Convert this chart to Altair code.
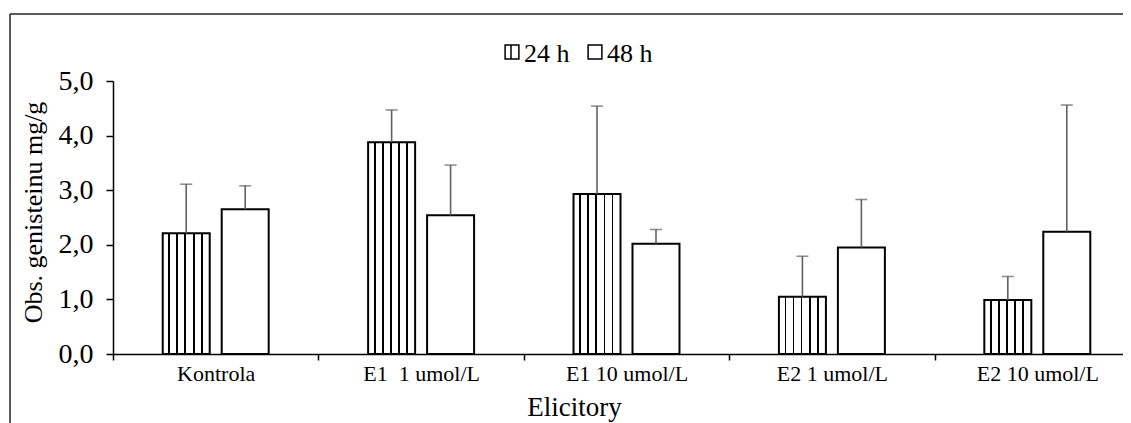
import altair as alt
import pandas as pd

categories = ["Kontrola", "E1\u00a0 1 umol/L", "E1 10 umol/L", "E2 1 umol/L", "E2 10 umol/L"]
series = ["24 h", "48 h"]
mean_24 = [2.21, 3.88, 2.93, 1.05, 0.99]
err_24 = [0.90, 0.59, 1.61, 0.74, 0.43]
mean_48 = [2.65, 2.54, 2.02, 1.95, 2.24]
err_48 = [0.43, 0.92, 0.26, 0.88, 2.32]
y_ticks = [0, 1, 2, 3, 4, 5]

rows = []
for c, m, e in zip(categories, mean_24, err_24):
    rows.append({"cat": c, "series": series[0], "value": m, "upper": m + e})
for c, m, e in zip(categories, mean_48, err_48):
    rows.append({"cat": c, "series": series[1], "value": m, "upper": m + e})
df = pd.DataFrame(rows)

FONT = "Liberation Serif"

# vertical hatch as a hard-stop horizontal gradient
stripe_centers = [0.14, 0.31, 0.48, 0.66, 0.83]
hw = 0.018
stops = [{"offset": 0, "color": "white"}]
for s in stripe_centers:
    stops += [
        {"offset": s - hw, "color": "white"},
        {"offset": s - hw, "color": "black"},
        {"offset": s + hw, "color": "black"},
        {"offset": s + hw, "color": "white"},
    ]
stops.append({"offset": 1, "color": "white"})
hatch = {"gradient": "linear", "x1": 0, "x2": 1, "y1": 0, "y2": 0, "stops": stops}

x_enc = alt.X(
    "cat:N",
    sort=categories,
    scale=alt.Scale(domain=categories, range=[0, 1027], paddingInner=0, paddingOuter=0),
    axis=alt.Axis(
        title="Elicitory",
        titleFont=FONT, titleFontSize=27, titleFontWeight="normal", titleColor="black",
        titleX=461, titleY=61, titleAlign="center", titleBaseline="alphabetic",
        labelFont=FONT, labelFontSize=22, labelColor="black", labelPadding=3, labelAngle=0,
        domainColor="black", domainWidth=1.5,
        tickColor="black", tickWidth=1.5, tickSize=6, tickBand="extent",
        grid=False,
    ),
)
xo_enc = alt.XOffset(
    "series:N",
    scale=alt.Scale(domain=series, paddingInner=0.203, paddingOuter=0.843),
)
y_scale = alt.Scale(domain=[0, 5], nice=False, zero=True)
y_enc = alt.Y(
    "value:Q",
    scale=y_scale,
    axis=alt.Axis(
        title="Obs. genisteinu mg/g",
        titleFont=FONT, titleFontSize=26, titleFontWeight="normal", titleColor="black",
        titleX=-67, titleY=131, titleAngle=270, titleAlign="center", titleBaseline="bottom",
        values=y_ticks,
        labelExpr="replace(format(datum.value, '.1f'), '.', ',')",
        labelFont=FONT, labelFontSize=28, labelColor="black", labelPadding=13,
        domainColor="black", domainWidth=1.5,
        tickColor="black", tickWidth=1.5, tickSize=7,
        grid=False,
    ),
)

base = alt.Chart(df)
one = alt.Chart(pd.DataFrame({"k": [0]}))

bars24 = base.transform_filter(alt.datum.series == series[0]).mark_bar(
    fill=hatch, stroke="black", strokeWidth=2
).encode(x=x_enc, xOffset=xo_enc, y=y_enc)

bars48 = base.transform_filter(alt.datum.series == series[1]).mark_bar(
    fill="white", stroke="black", strokeWidth=2
).encode(x=x_enc, xOffset=xo_enc, y=y_enc)

err_rule = base.mark_rule(color="#606060", strokeWidth=1.6).encode(
    x=x_enc, xOffset=xo_enc, y=alt.Y("value:Q", scale=y_scale), y2="upper:Q"
)
err_cap = base.mark_tick(color="#606060", thickness=1.6, size=12, orient="horizontal").encode(
    x=x_enc, xOffset=xo_enc, y=alt.Y("upper:Q", scale=y_scale)
)

# chart frame (outer border)
frame_left = one.mark_rule(color="#222222", strokeWidth=1.5).encode(
    x=alt.value(-103), y=alt.value(-67), y2=alt.value(400)
)
frame_top = one.mark_rule(color="#222222", strokeWidth=1.5).encode(
    x=alt.value(-103), x2=alt.value(1100), y=alt.value(-67)
)

# legend
leg_sq1 = one.mark_square(size=190, fill="white", stroke="black", strokeWidth=1.5, opacity=1).encode(
    x=alt.value(399), y=alt.value(-29)
)
leg_line1 = one.mark_rule(color="black", strokeWidth=1.5).encode(
    x=alt.value(398), y=alt.value(-36), y2=alt.value(-22)
)
leg_txt1 = one.mark_text(font=FONT, fontSize=26, fontWeight="normal", align="left", baseline="alphabetic", color="black").encode(
    x=alt.value(411), y=alt.value(-19), text=alt.value(series[0])
)
leg_sq2 = one.mark_square(size=190, fill="white", stroke="black", strokeWidth=1.5, opacity=1).encode(
    x=alt.value(482), y=alt.value(-29)
)
leg_txt2 = one.mark_text(font=FONT, fontSize=26, fontWeight="normal", align="left", baseline="alphabetic", color="black").encode(
    x=alt.value(494), y=alt.value(-19), text=alt.value(series[1])
)

chart = alt.layer(
    frame_left, frame_top,
    bars24, bars48, err_rule, err_cap,
    leg_sq1, leg_line1, leg_txt1, leg_sq2, leg_txt2,
).properties(
    width=1010,
    height=273,
    autosize=alt.AutoSizeParams(type="none"),
    padding={"left": 105, "top": 73, "right": 0, "bottom": 69},
    background="white",
).configure_view(stroke=None)

chart.save("out.html", embed_options={"renderer": "svg", "actions": False})
